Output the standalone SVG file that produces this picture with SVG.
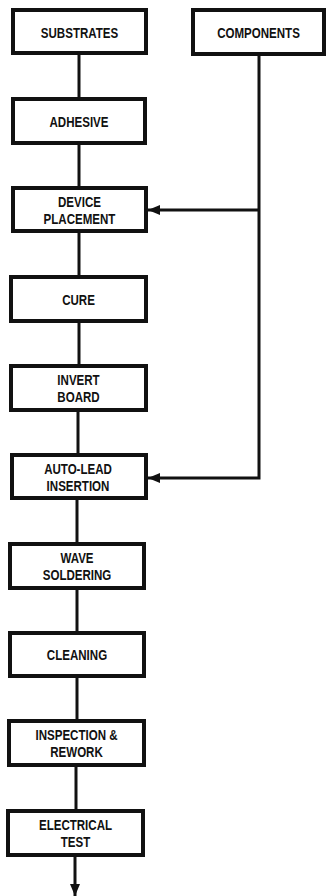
<svg xmlns="http://www.w3.org/2000/svg" width="329" height="896" viewBox="0 0 329 896">
<style>
.box{fill:#fff;stroke:#111;stroke-width:4}
.t{font-family:"Liberation Sans",Arial,sans-serif;font-weight:bold;font-size:15px;fill:#111;text-anchor:middle}
.ln{stroke:#111;stroke-width:3;fill:none}
</style>
<defs>
<marker id="ah" markerWidth="12" markerHeight="10" refX="12" refY="5" orient="auto" markerUnits="userSpaceOnUse">
<path d="M0,0 L12,5 L0,10 Z" fill="#111"/>
</marker>
</defs>
<g id="connectors">
<line class="ln" x1="79" y1="55" x2="79" y2="97"/>
<line class="ln" x1="79" y1="145" x2="79" y2="186"/>
<line class="ln" x1="79" y1="233" x2="79" y2="275"/>
<line class="ln" x1="79" y1="323" x2="79" y2="364"/>
<line class="ln" x1="78" y1="412" x2="78" y2="453"/>
<line class="ln" x1="77" y1="500" x2="77" y2="542"/>
<line class="ln" x1="77" y1="590" x2="77" y2="631"/>
<line class="ln" x1="77" y1="678" x2="77" y2="719"/>
<line class="ln" x1="76" y1="767" x2="76" y2="809"/>
<line class="ln" x1="75" y1="857" x2="75" y2="896" marker-end="url(#ah)"/>
<polyline class="ln" points="259,56 259,478 148,478" marker-end="url(#ah)"/>
<line class="ln" x1="259" y1="210" x2="148" y2="210" marker-end="url(#ah)"/>
</g>
<g id="substrates"><rect class="box" x="13" y="10" width="133" height="43"/><text class="t" transform="translate(79.5,38) scale(0.77,1)">SUBSTRATES</text></g>
<g id="components"><rect class="box" x="193" y="10" width="131" height="44"/><text class="t" transform="translate(258.5,38) scale(0.77,1)">COMPONENTS</text></g>
<g id="adhesive"><rect class="box" x="13" y="99" width="132" height="44"/><text class="t" transform="translate(79,127) scale(0.77,1)">ADHESIVE</text></g>
<g id="device-placement"><rect class="box" x="13" y="188" width="133" height="43"/><text class="t" transform="translate(79.5,207) scale(0.77,1)">DEVICE</text><text class="t" transform="translate(79.5,224) scale(0.77,1)">PLACEMENT</text></g>
<g id="cure"><rect class="box" x="11" y="277" width="135" height="44"/><text class="t" transform="translate(78.5,305) scale(0.77,1)">CURE</text></g>
<g id="invert-board"><rect class="box" x="11" y="366" width="135" height="44"/><text class="t" transform="translate(78.5,385) scale(0.77,1)">INVERT</text><text class="t" transform="translate(78.5,402) scale(0.77,1)">BOARD</text></g>
<g id="auto-lead-insertion"><rect class="box" x="12" y="455" width="134" height="43"/><text class="t" transform="translate(78,474) scale(0.77,1)">AUTO-LEAD</text><text class="t" transform="translate(78,491) scale(0.77,1)">INSERTION</text></g>
<g id="wave-soldering"><rect class="box" x="10" y="544" width="134" height="44"/><text class="t" transform="translate(77,563) scale(0.77,1)">WAVE</text><text class="t" transform="translate(77,580) scale(0.77,1)">SOLDERING</text></g>
<g id="cleaning"><rect class="box" x="10" y="633" width="134" height="43"/><text class="t" transform="translate(77,660) scale(0.77,1)">CLEANING</text></g>
<g id="inspection-rework"><rect class="box" x="9" y="721" width="135" height="44"/><text class="t" transform="translate(76.5,740) scale(0.77,1)">INSPECTION &amp;</text><text class="t" transform="translate(76.5,757) scale(0.77,1)">REWORK</text></g>
<g id="electrical-test"><rect class="box" x="8" y="811" width="135" height="44"/><text class="t" transform="translate(75.5,830) scale(0.77,1)">ELECTRICAL</text><text class="t" transform="translate(75.5,847) scale(0.77,1)">TEST</text></g>
</svg>
